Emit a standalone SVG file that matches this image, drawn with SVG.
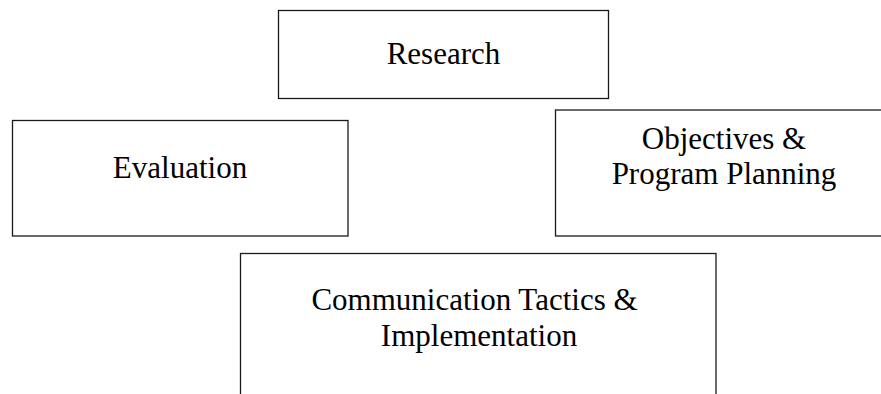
<svg xmlns="http://www.w3.org/2000/svg" width="881" height="394" viewBox="0 0 881 394">
<style>
.box{fill:#fff;stroke:#1a1a1a;stroke-width:1.3}
.lbl{font-family:"Liberation Serif","Times New Roman",serif;font-size:31px;fill:#000;text-anchor:middle}
</style>
<rect width="881" height="394" fill="#fff"/>
<g id="connectors"></g>
<g id="research">
<rect class="box" x="278.5" y="10.5" width="330" height="88"/>
<text class="lbl" x="443.5" y="64">Research</text>
</g>
<g id="evaluation">
<rect class="box" x="12.5" y="120.5" width="335.5" height="115.5"/>
<text class="lbl" x="180" y="178">Evaluation</text>
</g>
<g id="objectives">
<rect class="box" x="555.5" y="110" width="340" height="126"/>
<text class="lbl" x="724" y="149">Objectives &amp;</text>
<text class="lbl" x="724" y="184">Program Planning</text>
</g>
<g id="communication">
<rect class="box" x="240.5" y="253.5" width="475.5" height="160"/>
<text class="lbl" x="474.5" y="310">Communication Tactics &amp;</text>
<text class="lbl" x="479" y="346">Implementation</text>
</g>
</svg>
